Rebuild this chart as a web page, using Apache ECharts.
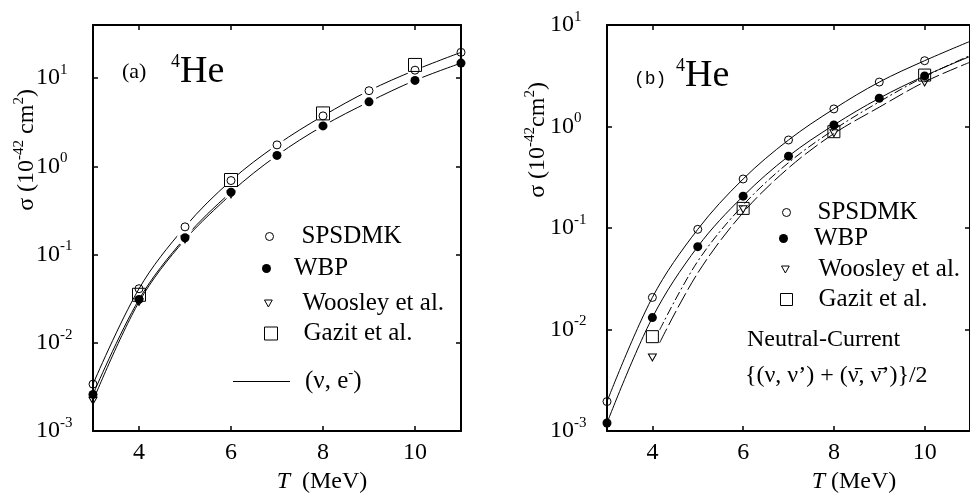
<!DOCTYPE html>
<html>
<head>
<meta charset="utf-8">
<script src="https://cdn.jsdelivr.net/npm/echarts@6/dist/echarts.min.js"></script>
<style>
  html, body { margin: 0; padding: 0; background: #fff; }
  #chart { width: 970px; height: 499px; }
</style>
</head>
<body>
<div id="chart"></div>
<script>
// (a) charged current (nu, e-) on 4He
const tA = [3, 4, 5, 6, 7, 8, 9, 10, 11];
const spsA = [3.4e-3, 0.041, 0.206, 0.69, 1.75, 3.73, 7.2, 12.3, 19.6];
const wbpA = [2.6e-3, 0.031, 0.155, 0.51, 1.33, 2.87, 5.38, 9.42, 14.8];
const tWooA = [3, 4, 5, 6];
const wooA = [2.2e-3, 0.029, 0.148, 0.48];
const tGazA = [4, 6, 8, 10];
const gazA = [0.035, 0.70, 3.98, 14.1];

// (b) neutral current on 4He
const tB = [3, 4, 5, 6, 7, 8, 9, 10, 11];
const spsB = [1.95e-3, 0.0207, 0.097, 0.304, 0.736, 1.49, 2.74, 4.45, 6.9];
const wbpB = [1.2e-3, 0.0131, 0.0655, 0.206, 0.51, 1.035, 1.90, 3.15, 4.9];
const tRefB = [4, 6, 8, 10];
const wooB = [5.3e-3, 0.153, 0.857, 2.72];
const gazB = [8.5e-3, 0.156, 0.889, 3.21];
const tCurveB = [4.16, 5, 6, 7, 8, 9, 10, 11];
const wooCurveB = [0.0074, 0.036, 0.142, 0.39, 0.85, 1.55, 2.75, 4.3];
const gazCurveB = [0.0099, 0.047, 0.168, 0.44, 0.93, 1.75, 3.1, 5.0];

const xTicks = [4, 6, 8, 10];

const serif = 'Liberation Serif';
const pts = (xs, ys) => xs.map((x, i) => [x, ys[i]]);

function pow10(v) {
  const l = Math.log10(v);
  const e = Math.round(l);
  if (Math.abs(l - e) > 1e-6) return '';
  return '{b|10}{s|' + e + '}';
}

const axisLine = { show: true, onZero: false, lineStyle: { color: '#000', width: 2 } };
const tick = { inside: true, length: 5, lineStyle: { color: '#000', width: 1.5 } };

function xAxes(grid) {
  return [
    {
      gridIndex: grid, type: 'value', min: 3, max: 11, position: 'bottom',
      axisLine: axisLine,
      axisTick: Object.assign({ customValues: xTicks }, tick),
      axisLabel: { customValues: xTicks, margin: 10, color: '#000', fontFamily: serif, fontSize: 24 },
      splitLine: { show: false }
    },
    {
      gridIndex: grid, type: 'value', min: 3, max: 11, position: 'top',
      axisLine: axisLine,
      axisTick: Object.assign({ customValues: xTicks }, tick),
      axisLabel: { show: false },
      splitLine: { show: false }
    }
  ];
}

function yAxes(grid, max) {
  return [
    {
      gridIndex: grid, type: 'log', logBase: 10, min: 1e-3, max: max, position: 'left',
      axisLine: axisLine, axisTick: tick,
      axisLabel: {
        formatter: pow10, align: 'left', margin: 57, color: '#000',
        rich: {
          b: { fontFamily: serif, fontSize: 24, color: '#000' },
          s: { fontFamily: serif, fontSize: 15, color: '#000', padding: [0, 0, 16, 0] }
        }
      },
      splitLine: { show: false }
    },
    {
      gridIndex: grid, type: 'log', logBase: 10, min: 1e-3, max: max, position: 'right',
      axisLine: axisLine, axisTick: tick,
      axisLabel: { show: false },
      splitLine: { show: false }
    }
  ];
}

function curve(name, ax, data, type) {
  return {
    type: 'line', name: name, xAxisIndex: ax, yAxisIndex: ax, data: data,
    smooth: 0.35, symbol: 'none', z: 2,
    itemStyle: { color: '#000' },
    lineStyle: { color: '#000', width: 1, type: type || 'solid' }
  };
}
// panel (a) curves are broken around their points: white symbols on the curve itself
function gappedCurve(data) {
  return Object.assign(curve('(ν, e⁻)', 0, data), {
    symbol: 'circle', showSymbol: true, showAllSymbol: true,
    symbolSize: v => (v[0] > 4.5 && v[0] < 11 ? 16 : 0),
    itemStyle: { color: '#fff', borderWidth: 0, opacity: 1 }
  });
}
const hollow = { color: 'rgba(0,0,0,0)', borderColor: '#000', borderWidth: 1, opacity: 1 };
function markers(ax) {
  return [
    { name: 'Gazit et al.', symbol: 'rect', symbolSize: ax === 0 ? 13 : 12, itemStyle: hollow },
    { name: 'Woosley et al.', symbol: 'path://M0,0L10,0L5,9Z', symbolSize: [8, 7], itemStyle: hollow },
    { name: 'SPSDMK', symbol: 'circle', symbolSize: 8, itemStyle: hollow },
    { name: 'WBP', symbol: 'circle', symbolSize: 9, itemStyle: { color: '#000', opacity: 1 } }
  ];
}
const mA = markers(0), mB = markers(2);
const dataA = [pts(tGazA, gazA), pts(tWooA, wooA), pts(tA, spsA), pts(tA, wbpA)];
const dataB = [pts(tRefB, gazB), pts(tRefB, wooB), pts(tB.slice(0, 8), spsB.slice(0, 8)), pts(tB.slice(0, 8), wbpB.slice(0, 8))];

const series = [
  curve('(ν, e⁻)', 0, pts(tWooA, wooA)),
  gappedCurve(pts(tA, spsA)),
  gappedCurve(pts(tA, wbpA)),
  curve('nc sps', 2, pts(tB, spsB)),
  curve('nc wbp', 2, pts(tB, wbpB)),
  curve('nc gazit', 2, pts(tCurveB, gazCurveB), [9, 3, 2, 3]),
  curve('nc woosley', 2, pts(tCurveB, wooCurveB), [16, 4])
];
mA.forEach((m, i) => series.push(Object.assign({ type: 'scatter', xAxisIndex: 0, yAxisIndex: 0, z: 4, clip: false, data: dataA[i] }, m)));
mB.forEach((m, i) => series.push(Object.assign({ type: 'scatter', xAxisIndex: 2, yAxisIndex: 2, z: 4, clip: false, data: dataB[i] }, m)));

const legText = { color: '#000', fontFamily: serif, fontSize: 25 };
function leg(name, left, top, w, h, pad, extra) {
  return Object.assign({
    data: [name], left: left, top: top, itemWidth: w, itemHeight: h, padding: 0,
    selectedMode: false, itemStyle: { borderWidth: 1 }, lineStyle: { width: 1 },
    textStyle: Object.assign({ padding: [0, 0, 0, pad] }, legText)
  }, extra || {});
}

const legends = [
  leg('SPSDMK', 265, 224, 8, 8, 23),
  leg('WBP', 262, 256, 9, 9, 18),
  leg('Woosley et al.', 264, 291, 8, 7, 25),
  leg('Gazit et al.', 264, 321, 13, 13, 21),
  leg('(ν, e⁻)', 233, 366, 57, 1, 10, {
    data: [{ name: '(ν, e⁻)', icon: 'rect' }],
    itemStyle: { color: '#000', borderWidth: 0 },
    formatter: () => '(ν, e{s|-})',
    textStyle: {
      color: '#000', fontFamily: serif, fontSize: 25, padding: [0, 0, 0, 10],
      rich: { s: { color: '#000', fontFamily: serif, fontSize: 15, padding: [0, 0, 16, 0] } }
    }
  }),
  leg('SPSDMK', 782, 200, 8, 8, 22),
  leg('WBP', 779, 226, 9, 9, 21),
  leg('Woosley et al.', 781, 257, 8, 7, 24),
  leg('Gazit et al.', 780, 287, 12, 12, 21)
];

function txt(x, y, text, opts) {
  return {
    type: 'text', x: x, y: y, silent: true, rotation: (opts && opts.rotation) || 0,
    style: Object.assign({
      text: text, fill: '#000', fontFamily: serif, fontSize: 24,
      align: 'left', verticalAlign: 'middle', textAlign: 'left', textVerticalAlign: 'middle'
    }, (opts && opts.style) || {})
  };
}
const supRich = (big, small, raise) => ({
  n: { fill: '#000', fontFamily: serif, fontSize: big },
  s: { fill: '#000', fontFamily: serif, fontSize: small, padding: [0, 0, raise, 0] },
  i: { fill: '#000', fontFamily: serif, fontSize: big, fontStyle: 'italic' }
});
const center = { align: 'center', textAlign: 'center' };

const graphic = [
  txt(122, 72, '(a)', { style: { fontSize: 22 } }),
  txt(171, 72, '{s|4}{n|He}', { style: { rich: supRich(38, 18, 20) } }),
  txt(634, 79, '(b)', { style: { fontFamily: 'Liberation Mono', fontSize: 18 } }),
  txt(676, 76, '{s|4}{n|He}', { style: { rich: supRich(38, 18, 20) } }),
  txt(27, 150, '{n|σ (10}{s|-42}{n| cm}{s|2}{n|)}', { rotation: Math.PI / 2, style: Object.assign({ rich: supRich(24, 15, 16) }, center) }),
  txt(538, 140, '{n|σ (10}{s|-42}{n|cm}{s|2}{n|)}', { rotation: Math.PI / 2, style: Object.assign({ rich: supRich(24, 15, 16) }, center) }),
  txt(322, 482, '{i|T}{n|  (MeV)}', { style: Object.assign({ rich: supRich(24, 15, 16) }, center) }),
  txt(854, 482, '{i|T}{n| (MeV)}', { style: Object.assign({ rich: supRich(24, 15, 16) }, center) }),
  txt(747, 340, 'Neutral-Current'),
  txt(745, 376, '{(ν, ν’) + (ν̄, ν̄’)}/2')
];

const chart = echarts.init(document.getElementById('chart'));
chart.setOption({
  animation: false,
  backgroundColor: '#fff',
  grid: [
    { left: 93, top: 25, width: 368, height: 406 },
    { left: 607, top: 25, width: 367, height: 406 }
  ],
  xAxis: xAxes(0).concat(xAxes(1)),
  yAxis: yAxes(0, 40).concat(yAxes(1, 10)),
  legend: legends,
  graphic: graphic,
  series: series
});
</script>
</body>
</html>
